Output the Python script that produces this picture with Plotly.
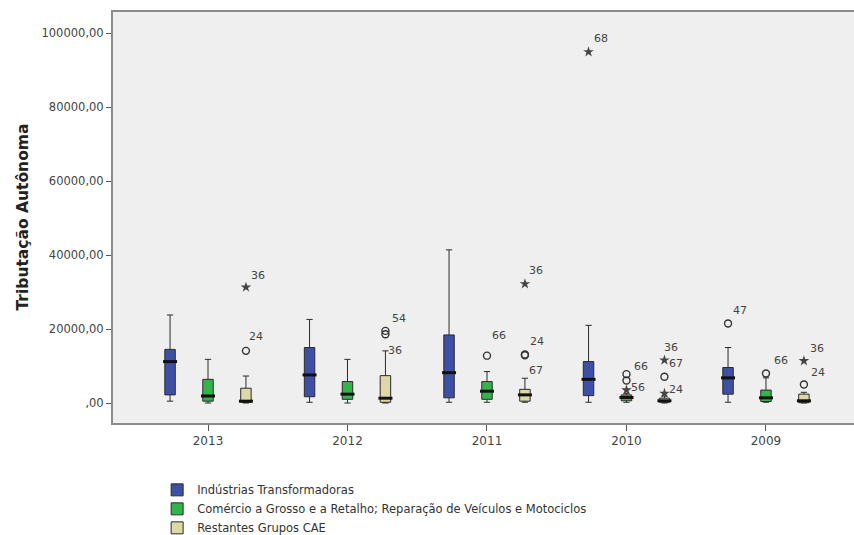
import plotly.graph_objects as go

# ---------------- data ----------------
years = ["2013", "2012", "2011", "2010", "2009"]
group_names = [
    "Indústrias Transformadoras",
    "Comércio a Grosso e a Retalho; Reparação de Veículos e Motociclos",
    "Restantes Grupos CAE",
]
y_title = "Tributação Autônoma"

ind_low = [500, 200, 200, 200, 200]
ind_q1 = [2200, 1700, 1400, 2000, 2400]
ind_med = [11200, 7600, 8200, 6400, 6800]
ind_q3 = [14500, 15000, 18400, 11200, 9600]
ind_high = [23800, 22600, 41400, 21000, 15000]

com_low = [0, 0, 200, 200, 200]
com_q1 = [500, 1000, 1000, 600, 400]
com_med = [1900, 2400, 3200, 1500, 1400]
com_q3 = [6400, 5800, 5800, 2200, 3500]
com_high = [11800, 11800, 8500, 2600, 6800]

res_low = [0, 0, 200, 0, 0]
res_q1 = [200, 200, 500, 200, 100]
res_med = [500, 1300, 2200, 600, 600]
res_q3 = [4000, 7400, 3700, 1300, 2400]
res_high = [7300, 14100, 6700, 1900, 2900]

# outliers: (year index, value, case id, kind)
ind_out_year = [3, 4]
ind_out_val = [94900, 21500]
ind_out_id = ["68", "47"]
ind_out_kind = ["extreme", "outlier"]

com_out_year = [2, 3, 3, 3, 4]
com_out_val = [12800, 7800, 6100, 3500, 8000]
com_out_id = ["66", "66", "", "56", "66"]
com_out_kind = ["outlier", "outlier", "outlier", "extreme", "outlier"]

res_out_year = [0, 0, 1, 1, 2, 2, 2, 3, 3, 3, 4, 4]
res_out_val = [14100, 31300, 19500, 18600, 13100, 12900, 32200, 11600, 7100, 2600, 11400, 5000]
res_out_id = ["24", "36", "54", "36", "24", "67", "36", "36", "67", "24", "36", "24"]
res_out_kind = ["outlier", "extreme", "outlier", "outlier", "outlier", "outlier",
                "extreme", "extreme", "outlier", "extreme", "extreme", "outlier"]

y_tickvals = [0, 20000, 40000, 60000, 80000, 100000]
y_ticktext = [",00", "20000,00", "40000,00", "60000,00", "80000,00", "100000,00"]

# ---------------- style ----------------
fills = ["#3E4FA6", "#33B44A", "#DCD9A6"]
offsets = [-0.272, 0.0, 0.272]
box_w = 0.075
# label pixel shifts (dx, dy-up) per outlier label
ind_lab_shift = [(12, 13), (12, 13)]
com_lab_shift = [(12, 20), (15, 8), (0, 0), (12, 3), (15, 13)]
res_lab_shift = [(10, 14), (12, 12), (14, 12), (10, -16), (12, 13), (11, -15),
                 (11, 13), (7, 13), (12, 13), (12, 4), (13, 12), (14, 12)]

font_family = "DejaVu Sans, Verdana, sans-serif"

groups = [
    (ind_low, ind_q1, ind_med, ind_q3, ind_high,
     ind_out_year, ind_out_val, ind_out_id, ind_out_kind, ind_lab_shift),
    (com_low, com_q1, com_med, com_q3, com_high,
     com_out_year, com_out_val, com_out_id, com_out_kind, com_lab_shift),
    (res_low, res_q1, res_med, res_q3, res_high,
     res_out_year, res_out_val, res_out_id, res_out_kind, res_lab_shift),
]

fig = go.Figure()
annotations = []

for g, (lo, q1, med, q3, hi, oy, ov, oid, okind, oshift) in enumerate(groups):
    xs = [i + offsets[g] for i in range(len(years))]
    fig.add_trace(go.Box(
        name=group_names[g],
        x=xs, q1=q1, median=med, q3=q3, lowerfence=lo, upperfence=hi,
        boxpoints=False, width=box_w, whiskerwidth=0.6,
        fillcolor=fills[g], line=dict(color="#2b2b2b", width=1),
        showlegend=True, hoverinfo="skip",
    ))
    # thick median marks
    fig.add_trace(go.Scatter(
        x=xs, y=med, mode="markers", showlegend=False, hoverinfo="skip",
        marker=dict(symbol="line-ew", size=10, line=dict(color="#111111", width=3)),
    ))
    # outliers
    ox = [oy[k] + offsets[g] for k in range(len(oy))]
    circ_x = [ox[k] for k in range(len(ox)) if okind[k] == "outlier"]
    circ_y = [ov[k] for k in range(len(ov)) if okind[k] == "outlier"]
    star_x = [ox[k] for k in range(len(ox)) if okind[k] == "extreme"]
    star_y = [ov[k] for k in range(len(ov)) if okind[k] == "extreme"]
    fig.add_trace(go.Scatter(
        x=circ_x, y=circ_y, mode="markers", showlegend=False, hoverinfo="skip",
        marker=dict(symbol="circle-open", size=7, color="#333333", line=dict(width=1.4)),
    ))
    fig.add_trace(go.Scatter(
        x=star_x, y=star_y, mode="markers", showlegend=False, hoverinfo="skip",
        marker=dict(symbol="star", size=8, color="#444444", line=dict(width=0)),
    ))
    for k in range(len(oy)):
        if oid[k]:
            dx, dy = oshift[k]
            annotations.append(dict(
                x=ox[k], y=ov[k], text=oid[k], showarrow=False,
                xshift=dx, yshift=dy, xanchor="center", yanchor="middle",
                font=dict(family=font_family, size=11, color="#444444"),
            ))

# y-axis title as rotated text
annotations.append(dict(
    xref="paper", yref="paper", x=-0.1228, y=0.5, text="<b>" + y_title + "</b>",
    textangle=-90, showarrow=False, xanchor="center", yanchor="middle",
    font=dict(family=font_family, size=15.5, color="#222222"),
))

fig.update_layout(
    width=854, height=535,
    margin=dict(l=113, r=0, t=12, b=112, autoexpand=False),
    paper_bgcolor="white",
    plot_bgcolor="#EFEFEF",
    font=dict(family=font_family, size=11, color="#333333"),
    showlegend=True,
    legend=dict(
        xref="container", yref="container",
        x=0.184, y=0.1115, xanchor="left", yanchor="top",
        orientation="v", bgcolor="rgba(0,0,0,0)",
        font=dict(family=font_family, size=11.5, color="#333333"),
        tracegroupgap=0, itemwidth=30,
    ),
    annotations=annotations,
)

fig.update_xaxes(
    range=[-0.681, 4.631],
    tickvals=list(range(len(years))), ticktext=years,
    ticks="outside", ticklen=6, tickcolor="#555555", tickwidth=1,
    showgrid=False, zeroline=False,
    showline=True, linecolor="#8C8C8C", linewidth=2, mirror=True,
    tickfont=dict(size=12, color="#444444"),
)
fig.update_yaxes(
    range=[-5400, 105700],
    tickvals=y_tickvals, ticktext=y_ticktext,
    ticks="outside", ticklen=5, tickcolor="#555555", tickwidth=1,
    showgrid=False, zeroline=False,
    showline=True, linecolor="#8C8C8C", linewidth=2,
    tickfont=dict(size=11.5, color="#444444"),
)

fig.write_html("out.html", config={"displayModeBar": False},
               post_script="document.body.style.margin='0';")
